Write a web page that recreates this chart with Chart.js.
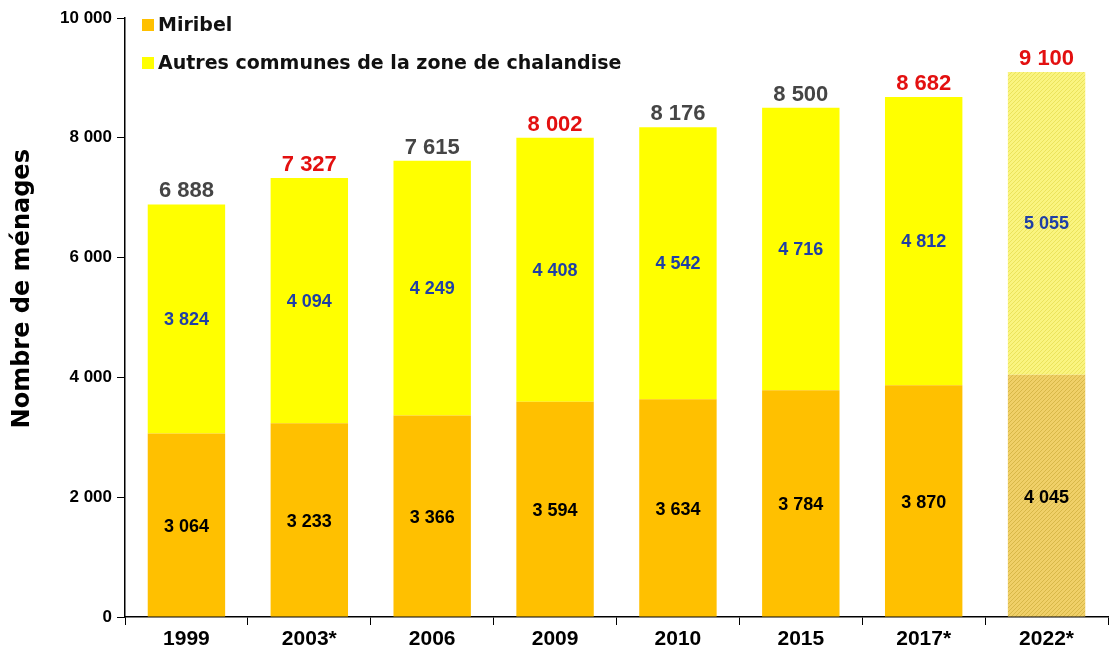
<!DOCTYPE html>
<html>
<head>
<meta charset="utf-8">
<script src="https://cdn.jsdelivr.net/npm/chart.js"></script>
<style>
  html, body { margin: 0; padding: 0; background: #fff; }
  #wrap { width: 1118px; height: 659px; position: relative; }
</style>
</head>
<body>
<div id="wrap"><canvas id="chart"></canvas></div>
<script>
// === données ===
const annees = ["1999", "2003*", "2006", "2009", "2010", "2015", "2017*", "2022*"];
const miribel = [3064, 3233, 3366, 3594, 3634, 3784, 3870, 4045];
const autres = [3824, 4094, 4249, 4408, 4542, 4716, 4812, 5055];
const totaux = [6888, 7327, 7615, 8002, 8176, 8500, 8682, 9100];
const totalRouge = [false, true, false, true, false, false, true, true];
const yTicks = [0, 2000, 4000, 6000, 8000, 10000];

const fmt = (v) => String(v).replace(/\B(?=(\d{3})+(?!\d))/g, " ");

// motif hachuré pour la projection 2022
function hatch(bg, line) {
  const c = document.createElement("canvas");
  c.width = 4; c.height = 4;
  const x = c.getContext("2d");
  x.fillStyle = bg;
  x.fillRect(0, 0, 4, 4);
  x.strokeStyle = line;
  x.lineWidth = 1;
  x.beginPath();
  x.moveTo(0, 4); x.lineTo(4, 0);
  x.moveTo(-1, 1); x.lineTo(1, -1);
  x.moveTo(3, 5); x.lineTo(5, 3);
  x.stroke();
  return x.createPattern(c, "repeat");
}

const ctx = document.getElementById("chart").getContext("2d");
const hatchOrange = hatch("#f0d068", "#d8b848");
const hatchJaune = hatch("#faf480", "#ebe35c");

const colMiribel = miribel.map((v, i) => i === annees.length - 1 ? hatchOrange : "#ffc000");
const colAutres = autres.map((v, i) => i === annees.length - 1 ? hatchJaune : "#ffff00");

// étiquettes, légende et titre de l'axe dessinés à la main
const labelsPlugin = {
  id: "labels",
  afterDatasetsDraw(chart) {
    const c = chart.ctx;
    const m0 = chart.getDatasetMeta(0);
    const m1 = chart.getDatasetMeta(1);
    c.save();
    c.textAlign = "center";
    c.textBaseline = "middle";
    m0.data.forEach((bar, i) => {
      c.font = "bold 18px 'Liberation Sans', Arial";
      c.fillStyle = "#000";
      c.fillText(fmt(miribel[i]), bar.x, bar.y + (bar.base - bar.y) / 2 + 2);
      const b1 = m1.data[i];
      c.fillStyle = "#1f3fa6";
      c.fillText(fmt(autres[i]), b1.x, b1.y + (b1.base - b1.y) / 2 + 1);
      c.font = "bold 22px 'Liberation Sans', Arial";
      c.fillStyle = totalRouge[i] ? "#e31010" : "#454545";
      c.textBaseline = "bottom";
      c.fillText(fmt(totaux[i]), b1.x, b1.y - 2);
      c.textBaseline = "middle";
    });
    // légende
    const a = chart.chartArea;
    const items = [["#ffc000", "Miribel"], ["#ffff00", "Autres communes de la zone de chalandise"]];
    c.textAlign = "left";
    c.font = "bold 19px 'DejaVu Sans'";
    items.forEach((it, k) => {
      const y = a.top + 7 + k * 38;
      c.fillStyle = it[0];
      c.fillRect(a.left + 17, y - 6, 12, 12);
      c.fillStyle = "#111";
      c.fillText(it[1], a.left + 33, y + 1);
    });
    // titre de l'axe Y
    c.translate(23, a.top + (a.bottom - a.top) * 0.452);
    c.rotate(-Math.PI / 2);
    c.textAlign = "center";
    c.font = "bold 24px 'DejaVu Sans'";
    c.fillStyle = "#000";
    c.fillText("Nombre de ménages", 0, 0);
    c.restore();
  }
};

new Chart(ctx, {
  type: "bar",
  data: {
    labels: annees,
    datasets: [
      { label: "Miribel", data: miribel, backgroundColor: colMiribel },
      { label: "Autres communes de la zone de chalandise", data: autres, backgroundColor: colAutres }
    ]
  },
  options: {
    responsive: true,
    maintainAspectRatio: false,
    animation: false,
    layout: { padding: { top: 18, right: 10, left: 0, bottom: 0 } },
    datasets: { bar: { categoryPercentage: 1, barPercentage: 0.63 } },
    plugins: { legend: { display: false }, tooltip: { enabled: false } },
    scales: {
      x: {
        stacked: true,
        border: { color: "#000", width: 1.5 },
        grid: { display: true, drawOnChartArea: false, offset: true, color: "#000", tickLength: 8 },
        ticks: { color: "#000", font: { family: "'Liberation Sans', Arial", size: 21, weight: "bold" }, padding: 2 },
        afterFit(s) { s.height = 42; }
      },
      y: {
        stacked: true,
        min: 0,
        max: 10000,
        afterBuildTicks(s) { s.ticks = yTicks.map(v => ({ value: v })); },
        border: { color: "#000", width: 1.5 },
        grid: { display: true, drawOnChartArea: false, color: "#000", tickLength: 8 },
        ticks: {
          color: "#000",
          font: { family: "'Liberation Sans', Arial", size: 17, weight: "bold" },
          padding: 5,
          callback: (v) => fmt(v)
        },
        title: { display: false },
        afterFit(s) { s.width = 125; }
      }
    }
  },
  plugins: [labelsPlugin]
});
</script>
</body>
</html>
